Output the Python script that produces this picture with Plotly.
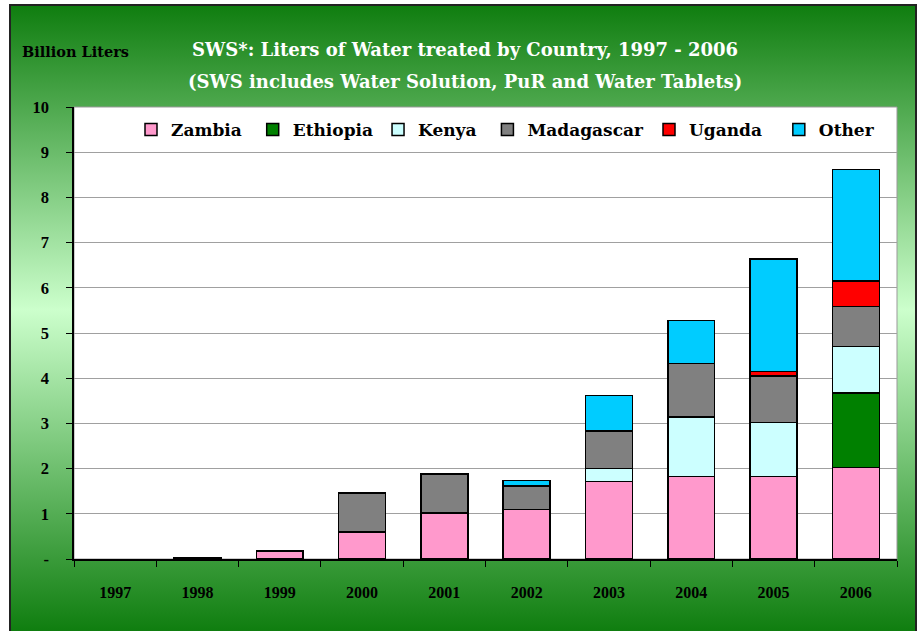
import base64
import plotly.graph_objects as go

years = ["1997", "1998", "1999", "2000", "2001", "2002", "2003", "2004", "2005", "2006"]
zambia = [0, 0.02, 0.18, 0.60, 1.02, 1.10, 1.71, 1.83, 1.82, 2.02]
ethiopia = [0, 0, 0, 0, 0, 0, 0, 0, 0, 1.65]
kenya = [0, 0, 0, 0, 0, 0, 0.29, 1.31, 1.20, 1.03]
madagascar = [0, 0, 0, 0.86, 0.86, 0.52, 0.83, 1.18, 1.03, 0.89]
uganda = [0, 0, 0, 0, 0, 0, 0, 0, 0.10, 0.56]
other = [0, 0, 0, 0, 0, 0.12, 0.79, 0.96, 2.49, 2.47]

NB = "\u00a0"
series = [
    ("Zambia", zambia, "#FF99CC", 1),
    ("Ethiopia", ethiopia, "#008000", 0),
    ("Kenya", kenya, "#CCFFFF", 1),
    ("Madagascar", madagascar, "#808080", 0),
    ("Uganda", uganda, "#FF0000", 2),
    ("Other", other, "#00CCFF", 0),
]

ytickvals = [0, 1, 2, 3, 4, 5, 6, 7, 8, 9, 10]
yticktext = ["-", "1", "2", "3", "4", "5", "6", "7", "8", "9", "10"]

FONT = "DejaVu Serif"
TFONT = "Liberation Serif"

fig = go.Figure()
for name, vals, col, pad in series:
    fig.add_trace(go.Bar(
        x=years, y=[v if v else None for v in vals], name=name + NB * pad,
        marker=dict(color=col, line=dict(color="black", width=1.5)),
    ))

# gradient background (SVG data URI)
svg = ('<svg xmlns="http://www.w3.org/2000/svg" width="100" height="100" preserveAspectRatio="none">'
       '<defs><linearGradient id="g" x1="0" y1="0" x2="0" y2="1">'
       '<stop offset="0" stop-color="#0f7d0f"/>'
       '<stop offset="0.48" stop-color="#ccffcc"/>'
       '<stop offset="1" stop-color="#0a7a0a"/>'
       '</linearGradient></defs>'
       '<rect width="100" height="100" fill="url(#g)"/></svg>')
src = "data:image/svg+xml;base64," + base64.b64encode(svg.encode()).decode()

L, R, T, B = 74, 26, 107, 72
W, H = 923, 631
pw, ph = W - L - R, H - T - B

def px2x(px):
    return (px - L) / pw

def py2y(py):
    return (H - B - py) / ph

fx0, fx1 = px2x(10), px2x(916)
fy0, fy1 = py2y(640), py2y(5)

fig.add_layout_image(dict(
    source=src, xref="paper", yref="paper",
    x=fx0, y=fy1, sizex=fx1 - fx0, sizey=fy1 - fy0,
    xanchor="left", yanchor="top", sizing="stretch", layer="below",
))

fig.add_shape(type="rect", xref="paper", yref="paper", x0=fx0, x1=fx1, y0=fy0, y1=fy1,
              line=dict(color="#222222", width=2), fillcolor="rgba(0,0,0,0)", layer="below")
fig.add_shape(type="rect", xref="paper", yref="paper", x0=0, x1=1, y0=0, y1=1,
              line=dict(color="#999999", width=1), fillcolor="white", layer="below")

fig.add_annotation(text="SWS*: Liters of Water treated by Country, 1997 - 2006",
                   xref="paper", yref="paper", x=px2x(465), y=py2y(50),
                   showarrow=False, font=dict(family=FONT, size=18, color="white"),
                   xanchor="center", yanchor="middle")
fig.add_annotation(text="(SWS includes Water Solution, PuR and Water Tablets)",
                   xref="paper", yref="paper", x=px2x(465), y=py2y(81),
                   showarrow=False, font=dict(family=FONT, size=18, color="white"),
                   xanchor="center", yanchor="middle")
fig.add_annotation(text="Billion Liters",
                   xref="paper", yref="paper", x=px2x(20), y=py2y(51),
                   showarrow=False, font=dict(family=FONT, size=14.5, color="black"),
                   xanchor="left", yanchor="middle")

fig.update_layout(
    width=W, height=H,
    margin=dict(l=L, r=R, t=T, b=B),
    paper_bgcolor="white", plot_bgcolor="rgba(0,0,0,0)",
    barmode="stack", bargap=0.43,
    font=dict(family=FONT, size=16, color="black", weight="bold"),
    showlegend=True,
    legend=dict(orientation="h", x=px2x(131), y=py2y(112), xanchor="left", yanchor="top",
                bgcolor="rgba(0,0,0,0)", font=dict(family=FONT, size=17, weight="bold"),
                traceorder="normal", itemwidth=30),
    xaxis=dict(type="category", tickson="boundaries", ticks="outside", ticklen=6,
               tickcolor="black", showline=True, linecolor="black", linewidth=1.5,
               showgrid=False, ticklabelstandoff=18,
               tickfont=dict(family=TFONT, size=16, weight="bold")),
    yaxis=dict(range=[0, 10], tickvals=ytickvals, ticktext=yticktext,
               ticks="outside", ticklen=6, tickcolor="black",
               showline=True, linecolor="black", linewidth=1.5,
               showgrid=True, gridcolor="#a0a0a0", gridwidth=1,
               zeroline=False, ticklabelstandoff=14,
               tickfont=dict(family=TFONT, size=16.5, weight="bold")),
)

fig.write_html("out.html", config={"displayModeBar": False},
               post_script="document.body.style.margin='0px';document.body.style.overflow='hidden';")
